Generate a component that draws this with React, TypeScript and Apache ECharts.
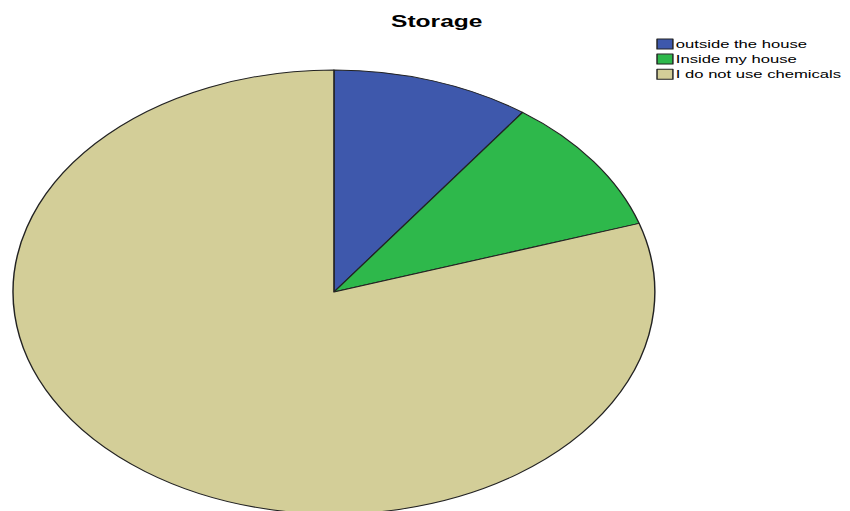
import React, { useEffect, useRef } from "react";
import * as echarts from "echarts";

const title = "Storage";
const categories = ["outside the house", "Inside my house", "I do not use chemicals"];
const values = [10, 10, 80];
const colors = ["#3E58AC", "#2EB84B", "#D3CE98"];

// The reference image is stretched horizontally; we render at a narrower
// width and stretch the whole chart with CSS so the pie becomes an ellipse.
const OUT_W = 850;
const OUT_H = 511;
const IN_W = 588;
const SX = OUT_W / IN_W;

export default function App() {
  const ref = useRef<HTMLDivElement>(null);
  useEffect(() => {
    if (!ref.current) return;
    const chart = echarts.init(ref.current, undefined, { renderer: "svg" });
    const font = 'Arial, "Liberation Sans", sans-serif';
    chart.setOption({
      animation: false,
      backgroundColor: "#ffffff",
      title: {
        text: title,
        left: 265.5,
        top: 7,
        textStyle: { fontSize: 17, fontWeight: "bold", color: "#000", fontFamily: font },
      },
      legend: {
        orient: "vertical",
        left: 449,
        top: 33,
        itemWidth: 11,
        itemHeight: 10,
        itemGap: 3.1,
        icon: "rect",
        data: categories,
        selectedMode: false,
        textStyle: { fontSize: 11.5, color: "#000", fontFamily: font, padding: [0, 0, 0, -3] },
        itemStyle: { borderColor: "#222", borderWidth: 1 },
      },
      series: [
        {
          type: "pie",
          center: [231, 292],
          radius: 222,
          startAngle: 90,
          clockwise: true,
          label: { show: false },
          labelLine: { show: false },
          emphasis: { disabled: true },
          itemStyle: { borderColor: "#222", borderWidth: 1 },
          data: categories.map((c, i) => ({
            name: c,
            value: values[i],
            itemStyle: { color: colors[i] },
          })),
        },
      ],
    });
    return () => chart.dispose();
  }, []);
  return (
    <div
      style={{
        position: "fixed",
        left: 0,
        top: 0,
        width: OUT_W,
        height: OUT_H,
        overflow: "hidden",
        background: "#fff",
      }}
    >
      <div
        ref={ref}
        style={{
          width: IN_W,
          height: OUT_H,
          transform: `scale(${SX}, 1)`,
          transformOrigin: "0 0",
        }}
      />
    </div>
  );
}
